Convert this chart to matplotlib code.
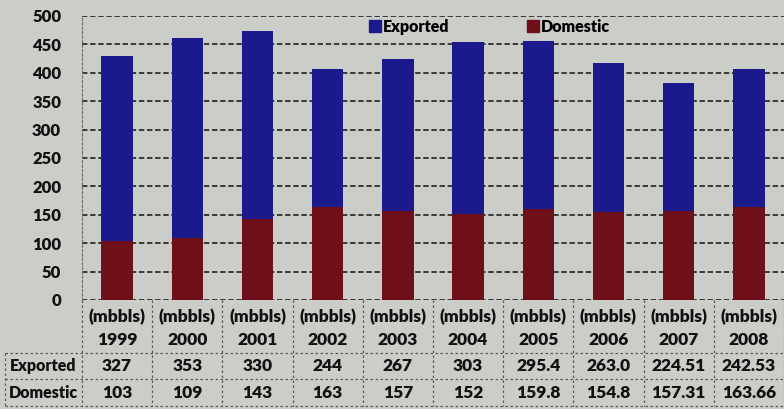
import matplotlib
matplotlib.use("Agg")
from matplotlib import pyplot as plt
from matplotlib.lines import Line2D

years = ["1999", "2000", "2001", "2002", "2003", "2004", "2005", "2006", "2007", "2008"]
exported = [327, 353, 330, 244, 267, 303, 295.4, 263.0, 224.51, 242.53]
domestic = [103, 109, 143, 163, 157, 152, 159.8, 154.8, 157.31, 163.66]
exported_txt = ["327", "353", "330", "244", "267", "303", "295.4", "263.0", "224.51", "242.53"]
domestic_txt = ["103", "109", "143", "163", "157", "152", "159.8", "154.8", "157.31", "163.66"]

bg = "#cbcdc8"
blue = "#1a1a8c"
maroon = "#6e0f1a"
ink = "#111111"
grid = "#2e2e2e"

plt.rcParams["font.family"] = ["Lato", "DejaVu Sans"]
plt.rcParams["font.weight"] = "heavy"

fig = plt.figure(figsize=(7.84, 4.09), dpi=100, facecolor=bg)
ax = fig.add_axes([82 / 784, 109 / 409, 702 / 784, 284 / 409], facecolor=bg)

x = list(range(len(years)))
ax.bar(x, domestic, width=0.45, color=maroon, zorder=3)
ax.bar(x, exported, width=0.45, bottom=domestic, color=blue, zorder=3)

ax.set_xlim(-0.5, len(years) - 0.5)
ax.set_ylim(0, 500)
ax.set_yticks(range(0, 501, 50))
ax.set_xticks([])
ax.yaxis.grid(True, linestyle=(0, (3, 1.5)), color=grid, linewidth=1.3, zorder=0)
ax.tick_params(axis="y", length=0, pad=15, labelsize=12, labelcolor=ink)
for s in ["top", "right", "bottom"]:
    ax.spines[s].set_visible(False)
ax.spines["left"].set_linestyle((0, (2, 2)))
ax.spines["left"].set_color("#6a6a6a")

handles = [Line2D([], [], marker="s", linestyle="", color=blue, markersize=8),
           Line2D([], [], marker="s", linestyle="", color=maroon, markersize=8)]
ax.legend(handles, ["Exported", "Domestic"], ncol=2, frameon=False,
          loc="center", bbox_to_anchor=(0.58, 0.962), fontsize=11.5,
          handletextpad=0.1, columnspacing=4.8, handlelength=0.8)

# data table under the axis
tr = ax.get_xaxis_transform()
def ry(py):
    return (300 - py) / 284

line_kw = dict(color="#5a5a5a", linewidth=0.9, linestyle=(0, (2, 2)),
               transform=tr, clip_on=False)
left = -0.5 - 77 / 70.2
for k in range(len(years) + 1):
    ax.plot([k - 0.5, k - 0.5], [ry(300), ry(406)], **line_kw)
ax.plot([left, left], [ry(353), ry(406)], **line_kw)
for py in (353, 379, 406):
    ax.plot([left, len(years) - 0.5], [ry(py), ry(py)], **line_kw)

for i in x:
    ax.text(i, ry(317), "(mbbls)", transform=tr, ha="center", va="center",
            fontsize=12.5, color=ink)
    ax.text(i, ry(340), years[i], transform=tr, ha="center", va="center",
            fontsize=12.5, color=ink)
    ax.text(i, ry(366), exported_txt[i], transform=tr, ha="center", va="center",
            fontsize=12.5, color=ink)
    ax.text(i, ry(393), domestic_txt[i], transform=tr, ha="center", va="center",
            fontsize=12.5, color=ink)
ax.text((left - 0.5) / 2, ry(366), "Exported", transform=tr, ha="center",
        va="center", fontsize=11.5, color=ink)
ax.text((left - 0.5) / 2, ry(393), "Domestic", transform=tr, ha="center",
        va="center", fontsize=11.5, color=ink)

fig.savefig("out.png", dpi=100, facecolor=bg)
